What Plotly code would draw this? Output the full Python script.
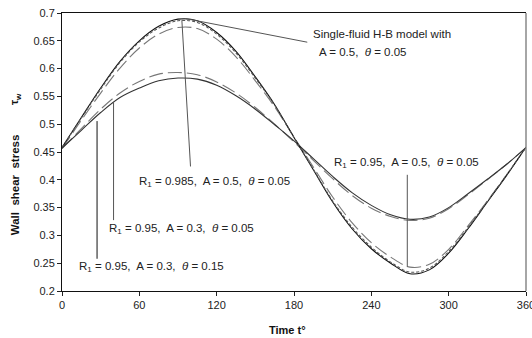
import plotly.graph_objects as go

# ---- data ----
t = [0, 15, 30, 45, 60, 75, 90, 105, 120, 135, 150, 165, 180,
     195, 210, 225, 240, 255, 270, 285, 300, 315, 330, 345, 360]

single_fluid = [0.458, 0.512, 0.565, 0.613, 0.650, 0.676, 0.689, 0.686, 0.665, 0.631,
                0.585, 0.535, 0.476, 0.418, 0.360, 0.312, 0.276, 0.250, 0.231, 0.238,
                0.268, 0.312, 0.360, 0.408, 0.459]
r0985_a05_t005 = [0.458, 0.511, 0.563, 0.611, 0.648, 0.673, 0.686, 0.683, 0.662, 0.628,
                  0.583, 0.534, 0.476, 0.419, 0.362, 0.315, 0.279, 0.252, 0.234, 0.241,
                  0.271, 0.314, 0.361, 0.409, 0.459]
r095_a05_t005 = [0.456, 0.507, 0.556, 0.601, 0.637, 0.662, 0.674, 0.672, 0.653, 0.621,
                 0.578, 0.531, 0.477, 0.423, 0.369, 0.323, 0.287, 0.261, 0.243, 0.248,
                 0.275, 0.317, 0.362, 0.409, 0.458]
r095_a03_t005 = [0.456, 0.492, 0.527, 0.556, 0.577, 0.590, 0.593, 0.589, 0.576, 0.556,
                 0.530, 0.500, 0.468, 0.435, 0.402, 0.372, 0.349, 0.334, 0.327, 0.331,
                 0.348, 0.373, 0.400, 0.428, 0.458]
r095_a03_t015 = [0.457, 0.489, 0.521, 0.548, 0.565, 0.578, 0.583, 0.581, 0.570, 0.551,
                 0.527, 0.499, 0.470, 0.438, 0.406, 0.377, 0.354, 0.337, 0.329, 0.333,
                 0.350, 0.375, 0.401, 0.428, 0.458]

x_ticks = [0, 60, 120, 180, 240, 300, 360]
y_ticks = [0.2, 0.25, 0.3, 0.35, 0.4, 0.45, 0.5, 0.55, 0.6, 0.65, 0.7]
y_tick_text = ["0.2", "0.25", "0.3", "0.35", "0.4", "0.45", "0.5", "0.55", "0.6", "0.65", "0.7"]

# label texts with their anchor points (data coords) and leader lines
labels = [
    ("Single-fluid H-B model with", 192.9, 0.663),
    ("A = 0.5,\u00a0 <i>θ</i> = 0.05", 198.0, 0.630),
    ("R<sub>1</sub> = 0.985,\u00a0 A = 0.5,\u00a0 <i>θ</i> = 0.05", 58.3, 0.396),
    ("R<sub>1</sub> = 0.95,\u00a0 A = 0.3,\u00a0 <i>θ</i> = 0.05", 35.0, 0.311),
    ("R<sub>1</sub> = 0.95,\u00a0 A = 0.3,\u00a0 <i>θ</i> = 0.15", 11.7, 0.2437),
    ("R<sub>1</sub> = 0.95,\u00a0 A = 0.5,\u00a0 <i>θ</i> = 0.05", 209.7, 0.4294),
]
leaders = [
    (95.8, 0.690, 190.3, 0.6475, "#555555"),
    (93.0, 0.687, 99.7, 0.424, "#555555"),
    (40.0, 0.539, 40.0, 0.3275, "#555555"),
    (27.2, 0.5056, 27.2, 0.258, "#111111"),
    (267.9, 0.409, 267.9, 0.243, "#555555"),
]

FONT = "Liberation Sans, Arial, sans-serif"

fig = go.Figure()
series = [
    (r095_a03_t005, "#777777", "14px,5px", 1.1),
    (r095_a05_t005, "#777777", "14px,5px", 1.1),
    (r095_a03_t015, "#333333", "solid", 1.1),
    (single_fluid, "#111111", "solid", 1.1),
    (r0985_a05_t005, "#555555", "3px,2px", 1.1),
]
for ys, col, dash, w in series:
    fig.add_trace(go.Scatter(x=t, y=ys, mode="lines",
                             line=dict(color=col, dash=dash, width=w, shape="spline", smoothing=1.0),
                             showlegend=False, hoverinfo="skip"))

for x0, y0, x1, y1, col in leaders:
    fig.add_shape(type="line", xref="x", yref="y", x0=x0, y0=y0, x1=x1, y1=y1,
                  line=dict(color=col, width=1))

for txt, x, y in labels:
    fig.add_annotation(text=txt, x=x, y=y, xref="x", yref="y", xanchor="left", yanchor="middle",
                       showarrow=False, font=dict(family=FONT, size=11.5, color="#222222"))

# right frame line (gray)
fig.add_shape(type="line", xref="paper", yref="paper", x0=1, x1=1, y0=0, y1=1,
              line=dict(color="#888888", width=1.5))

NB = "\u00a0"
# y-axis title, drawn in two parts (words, then the symbol) as spaced in the reference
fig.add_annotation(text="<b>Wall" + NB * 2 + "shear" + NB * 2 + "stress</b>",
                   xref="paper", yref="paper",
                   x=-0.101, y=0.381, textangle=-90, showarrow=False,
                   xanchor="center", yanchor="middle",
                   font=dict(family=FONT, size=11.5, color="#111111"))
fig.add_annotation(text="<b>τ<sub>w</sub></b>",
                   xref="paper", yref="paper",
                   x=-0.101, y=0.691, textangle=-90, showarrow=False,
                   xanchor="center", yanchor="middle",
                   font=dict(family=FONT, size=11.5, color="#111111"))
fig.add_annotation(text="<b>Time t°</b>", xref="paper", yref="paper",
                   x=0.485, y=-0.140, showarrow=False, xanchor="center", yanchor="middle",
                   font=dict(family=FONT, size=11, color="#111111"))

fig.update_xaxes(range=[0, 360], tickvals=x_ticks, ticks="outside", ticklen=4, tickcolor="#222",
                 showline=True, linecolor="#111", linewidth=1, mirror=True, showgrid=False,
                 zeroline=False, ticklabeloverflow="allow", automargin=False,
                 tickfont=dict(family=FONT, size=11, color="#222"))
fig.update_yaxes(range=[0.2, 0.7], tickvals=y_ticks, ticktext=y_tick_text, ticks="outside",
                 ticklen=4, tickcolor="#222", showline=True, linecolor="#111", linewidth=1,
                 showgrid=False, zeroline=False, ticklabeloverflow="allow", automargin=False,
                 tickfont=dict(family=FONT, size=11, color="#222"))

fig.update_layout(width=532, height=338, margin=dict(l=62, r=6, t=13, b=47, autoexpand=False),
                  plot_bgcolor="white", paper_bgcolor="white")

fig.write_html("out.html", config={"displayModeBar": False},
               post_script="document.body.style.margin='0';document.body.style.overflow='hidden';")
